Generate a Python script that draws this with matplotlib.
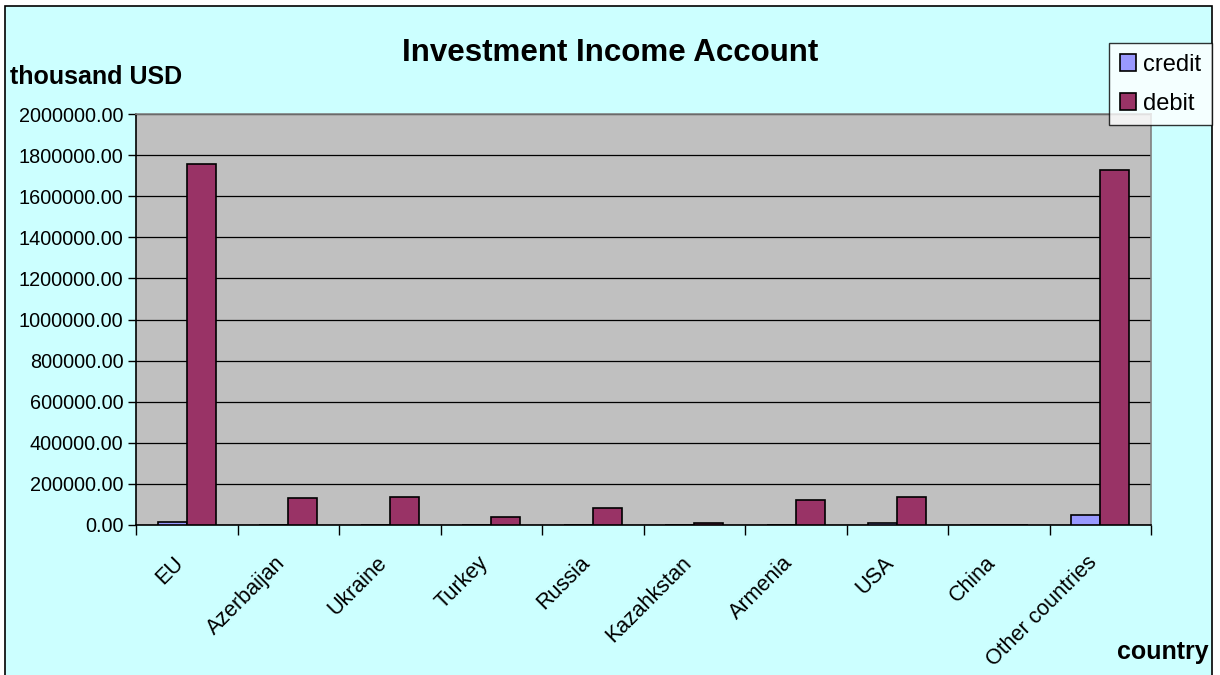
import matplotlib
matplotlib.use("Agg")
import matplotlib.pyplot as plt
from matplotlib.ticker import FixedLocator, FuncFormatter
from matplotlib.patches import Rectangle
from matplotlib.transforms import ScaledTranslation
import numpy as np

plt.rcParams['font.family'] = ['Liberation Sans', 'DejaVu Sans']

countries = ["EU", "Azerbaijan", "Ukraine", "Turkey", "Russia",
             "Kazahkstan", "Armenia", "USA", "China", "Other countries"]
credit = [15000, 0, 0, 0, 0, 0, 0, 8000, 0, 47000]
debit = [1755000, 130000, 138000, 39000, 81000, 8000, 122000, 138000, 0, 1727000]
y_ticks = [0, 200000, 400000, 600000, 800000, 1000000,
           1200000, 1400000, 1600000, 1800000, 2000000]

BG = "#CCFFFF"
PLOT_BG = "#C0C0C0"
CREDIT_C = "#9999FF"
DEBIT_C = "#993366"

fig = plt.figure(figsize=(12.2, 6.75), dpi=100)
fig.patch.set_facecolor("white")

# outer chart frame
frame = Rectangle((5 / 1220, -0.01), (1212 - 5) / 1220, 1 - 6 / 675 + 0.01,
                  transform=fig.transFigure, facecolor=BG, edgecolor="black",
                  linewidth=1.2, zorder=-10)
fig.patches.append(frame)

ax = fig.add_axes([136 / 1220, 1 - 525 / 675, (1151 - 136) / 1220, (525 - 114) / 675])
ax.set_zorder(1)
ax.set_facecolor(PLOT_BG)

x = np.arange(len(countries))
w = 0.285
ax.bar(x - w / 2, credit, width=w, color=CREDIT_C, edgecolor="black",
       linewidth=1.2, label="credit", zorder=3)
ax.bar(x + w / 2, debit, width=w, color=DEBIT_C, edgecolor="black",
       linewidth=1.2, label="debit", zorder=3)

ax.set_xlim(-0.5, len(countries) - 0.5)
ax.set_ylim(0, 2000000)
ax.set_yticks(y_ticks)
ax.yaxis.set_major_formatter(FuncFormatter(lambda v, p: f"{v:.2f}"))
ax.grid(axis="y", color="black", linewidth=0.9, zorder=1)
ax.tick_params(axis="y", direction="out", length=6, width=1, labelsize=14.3, pad=3)

# category boundaries carry tick marks, centres carry labels
ax.xaxis.set_major_locator(FixedLocator(np.arange(-0.5, len(countries), 1.0)))
ax.xaxis.set_major_formatter(FuncFormatter(lambda v, p: ""))
ax.xaxis.set_minor_locator(FixedLocator(x))
ax.set_xticklabels(countries, minor=True)
ax.tick_params(axis="x", which="major", direction="out", length=7, width=1)
ax.tick_params(axis="x", which="minor", length=0, pad=25, labelsize=15.5)
shift = ScaledTranslation(-6 / 100, 0, fig.dpi_scale_trans)
for lbl in ax.get_xticklabels(minor=True):
    lbl.set_rotation(45)
    lbl.set_ha("right")
    lbl.set_va("center")
    lbl.set_rotation_mode("anchor")
    lbl.set_transform(lbl.get_transform() + shift)

for s in ax.spines.values():
    s.set_color("black")
    s.set_linewidth(1.2)
ax.spines["right"].set_color("#808080")
ax.spines["top"].set_color("#808080")

fig.text(610 / 1220, 1 - 53 / 675, "Investment Income Account", ha="center",
         va="center", fontsize=22.5, fontweight="bold")
fig.text(10 / 1220, 1 - 77 / 675, "thousand USD", ha="left", va="center",
         fontsize=18, fontweight="bold")
fig.text(1209 / 1220, 1 - 652 / 675, "country", ha="right", va="center",
         fontsize=18, fontweight="bold")

leg = ax.legend(loc="upper left", bbox_to_anchor=(1109 / 1220, 1 - 43 / 675),
                bbox_transform=fig.transFigure, fontsize=17, frameon=True,
                fancybox=False, handlelength=0.7, handleheight=0.7,
                handletextpad=0.3, borderpad=0.45, labelspacing=0.72,
                borderaxespad=0)
leg.get_frame().set_edgecolor("black")
leg.get_frame().set_linewidth(1.0)
leg.get_frame().set_facecolor("white")

fig.savefig("out.png", dpi=100, facecolor=fig.get_facecolor())
